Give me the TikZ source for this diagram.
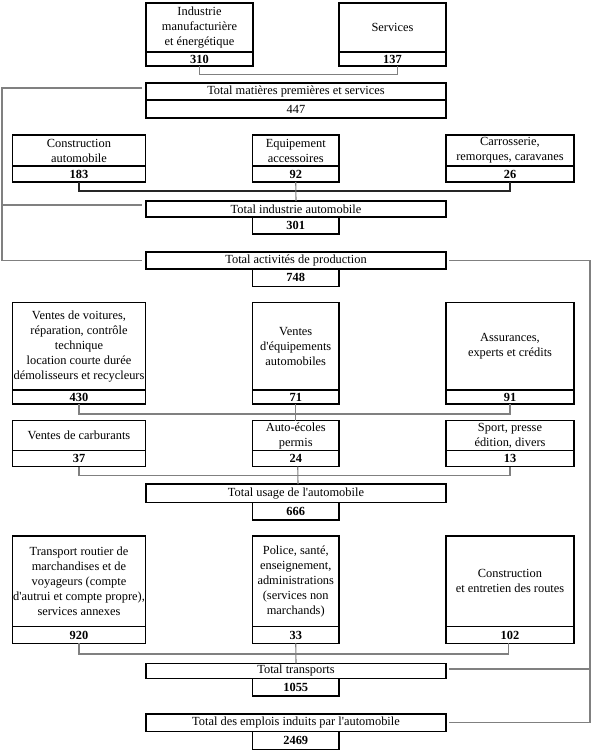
\documentclass[tikz,border=0pt]{standalone}
\usepackage{fontspec}
\setmainfont{Liberation Serif}
\usetikzlibrary{calc}
\tikzset{
  box/.style={draw, line width=1.4pt, inner sep=0pt, outer sep=0pt, align=center,
    font=\fontsize{12.4}{15}\selectfont},
  numbox/.style={box, font=\fontsize{12.4}{15}\selectfont\bfseries},
  conn/.style={draw=black!50, line width=1.1pt},
  connk/.style={draw=black!85, line width=1.1pt}
}
\begin{document}
\begin{tikzpicture}[x=1pt,y=-1pt]
\useasboundingbox (0,0) rectangle (595,755);
\def\q{\textquotesingle}
% top row
\node[box, minimum width=107pt, minimum height=49pt] (ind) at (199.5,27.5) {Industrie\\manufacturière\\et énergétique};
\node[numbox, minimum width=107pt, minimum height=14pt] (indn) at (199.5,59) {310};
\node[box, minimum width=107pt, minimum height=49pt] (ser) at (392.5,27.5) {Services};
\node[numbox, minimum width=107pt, minimum height=14pt] (sern) at (392.5,59) {137};
% total matieres
\node[box, minimum width=300pt, minimum height=17pt] (tm) at (296,91.5) {Total matières premières et services};
\node[box, minimum width=300pt, minimum height=18pt] (tmn) at (296,109) {447};
% row 2
\node[box, minimum width=133pt, minimum height=31pt] (con) at (79,150.5) {Construction\\automobile};
\node[numbox, minimum width=133pt, minimum height=16pt] (conn) at (79,174) {183};
\node[box, minimum width=86.5pt, minimum height=31pt] (equ) at (295.75,150.5) {Equipement\\accessoires};
\node[numbox, minimum width=86.5pt, minimum height=16pt] (equn) at (295.75,174) {92};
\node[box, minimum width=128pt, minimum height=31pt] (car) at (510,150.5) {Carrosserie,\\remorques, caravanes};
\node[numbox, minimum width=128pt, minimum height=16pt] (carn) at (510,174) {26};
% total industrie
\node[box, minimum width=300pt, minimum height=16pt] (ti) at (296,209) {Total industrie automobile};
\node[numbox, minimum width=86.5pt, minimum height=17pt] (tin) at (295.75,225.5) {301};
% total activites
\node[box, minimum width=300pt, minimum height=17pt] (ta) at (296,260.5) {Total activités de production};
\node[numbox, minimum width=86.5pt, minimum height=17.5pt] (tan) at (295.75,277.75) {748};
% row 3
\node[box, minimum width=133pt, minimum height=87.3pt] (vv) at (79,346.35) {Ventes de voitures,\\réparation, contrôle\\technique\\location courte durée\\démolisseurs et recycleurs};
\node[numbox, minimum width=133pt, minimum height=14pt] (vvn) at (79,397) {430};
\node[box, minimum width=86.5pt, minimum height=87.3pt] (ve) at (295.75,346.35) {Ventes\\d\q équipements\\automobiles};
\node[numbox, minimum width=86.5pt, minimum height=14pt] (ven) at (295.75,397) {71};
\node[box, minimum width=128pt, minimum height=87.3pt] (as) at (510,346.35) {Assurances,\\experts et crédits};
\node[numbox, minimum width=128pt, minimum height=14pt] (asn) at (510,397) {91};
% row 4
\node[box, minimum width=133pt, minimum height=30pt] (vc) at (79,435.7) {Ventes de carburants};
\node[numbox, minimum width=133pt, minimum height=16pt] (vcn) at (79,458.7) {37};
\node[box, minimum width=86.5pt, minimum height=30pt] (ae) at (295.75,435.7) {Auto-écoles\\permis};
\node[numbox, minimum width=86.5pt, minimum height=16pt] (aen) at (295.75,458.7) {24};
\node[box, minimum width=128pt, minimum height=30pt] (sp) at (510,435.7) {Sport, presse\\édition, divers};
\node[numbox, minimum width=128pt, minimum height=16pt] (spn) at (510,458.7) {13};
% total usage
\node[box, minimum width=300pt, minimum height=18.7pt] (tu) at (296,493.35) {Total usage de l\q automobile};
\node[numbox, minimum width=86.5pt, minimum height=17.3pt] (tun) at (295.75,511.35) {666};
% row 5
\node[box, minimum width=133pt, minimum height=90.7pt] (tr) at (79,581.35) {Transport routier de\\marchandises et de\\voyageurs (compte\\d\q autrui et compte propre),\\services annexes};
\node[numbox, minimum width=133pt, minimum height=16.6pt] (trn) at (79,635) {920};
\node[box, minimum width=86.5pt, minimum height=90.7pt] (po) at (295.75,581.35) {Police, santé,\\enseignement,\\administrations\\(services non\\marchands)};
\node[numbox, minimum width=86.5pt, minimum height=16.6pt] (pon) at (295.75,635) {33};
\node[box, minimum width=128pt, minimum height=90.7pt] (ce) at (510,581.35) {Construction\\et entretien des routes};
\node[numbox, minimum width=128pt, minimum height=16.6pt] (cen) at (510,635) {102};
% total transports
\node[box, minimum width=300pt, minimum height=15pt] (tt) at (296,670.8) {Total transports};
\node[numbox, minimum width=86.5pt, minimum height=17.7pt] (ttn) at (295.75,687.15) {1055};
% total emplois
\node[box, minimum width=300pt, minimum height=17.7pt] (te) at (296,722.85) {Total des emplois induits par l\q automobile};
\node[numbox, minimum width=86.5pt, minimum height=17.6pt] (ten) at (295.75,740.5) {2469};
% connectors
\draw[conn] (indn.south) -- ++(0,8.5) -| ($(sern.south)+(5,0)$);
\draw[connk] (conn.south) -- ++(0,9) -| (carn.south);
\draw[conn] (equn.south) -- (ti.north);
\draw[conn] (vvn.south) -- ++(0,10) -| (asn.south);
\draw[conn] (ven.south) -- (ae.north);
\draw[conn] (vcn.south) -- ++(0,8.5) -| (spn.south);
\draw[conn] ($(aen.south)+(2,0)$) -- ($(tu.north)+(2,0)$);
\draw[conn] (trn.south) -- ++(0,10.7) -| ($(cen.south)+(-1.5,0)$);
\draw[conn] (pon.south) -- (tt.north);
% left brackets
\coordinate (L1) at (2,88);
\coordinate (L2) at (2,205);
\coordinate (L3) at (2,260.5);
\draw[conn] ($(tm.west)+(-4,-3.5)$) -- (L1) -- (L2) -- ($(ti.west)+(-4,-4)$);
\draw[conn] (L2) -- (L3) -- ($(ta.west)+(-4,0)$);
% right bracket
\coordinate (R1) at (590,260.5);
\coordinate (R2) at (590,722.85);
\coordinate (R3) at (590,669);
\draw[conn] ($(ta.east)+(3,0)$) -- (R1) -- (R2) -- ($(te.east)+(3,0)$);
\draw[conn] ($(tt.east)+(3,-1.8)$) -- (R3);
\end{tikzpicture}
\end{document}
